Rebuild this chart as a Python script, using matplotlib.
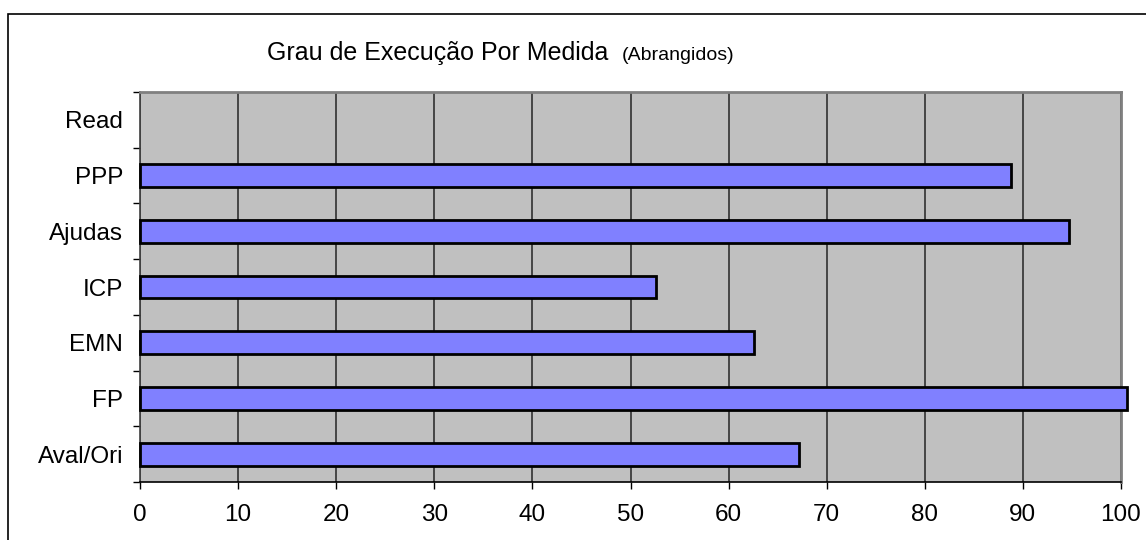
import numpy as np
import matplotlib
matplotlib.use("Agg")
import matplotlib.pyplot as plt
from matplotlib.patches import Rectangle

# Dados (de baixo para cima)
medidas = ["Aval/Ori", "FP", "EMN", "ICP", "Ajudas", "PPP", "Read"]
grau = [67.2, 100.6, 62.6, 52.6, 94.7, 88.8, np.nan]
xticks = [0, 10, 20, 30, 40, 50, 60, 70, 80, 90, 100]

plt.rcParams['font.family'] = ['Liberation Sans', 'DejaVu Sans']

W, H = 1146, 540
fig = plt.figure(figsize=(W / 100, H / 100), dpi=100)

# Moldura exterior (cortada à direita e em baixo)
fig.patches.append(Rectangle((8 / W, -0.2), 1.2, 1 - 14 / H + 0.2,
                             transform=fig.transFigure, fill=False,
                             edgecolor='black', linewidth=1.2))

ax = fig.add_axes([140 / W, 1 - 482 / H, (1121 - 140) / W, (482 - 92) / H])
ax.set_facecolor('#C0C0C0')

pos = np.arange(len(medidas))
ax.barh(pos, grau, height=0.41, color='#8080FF', edgecolor='black',
        linewidth=2, clip_on=False, zorder=3)

ax.set_xlim(0, 100)
ax.set_ylim(-0.5, len(medidas) - 0.5)
ax.set_xticks(xticks)
ax.set_xticklabels([str(v) for v in xticks])
ax.set_yticks(pos)
ax.set_yticklabels(medidas)
ax.set_yticks(np.arange(-0.5, len(medidas)), minor=True)

ax.grid(True, axis='x', color='#303030', linewidth=1.2, zorder=1)
ax.set_axisbelow(True)

ax.tick_params(axis='y', which='major', length=0, pad=12, labelsize=17.5)
ax.tick_params(axis='y', which='minor', length=5, width=1, color='black')
ax.tick_params(axis='x', length=5, width=1, pad=11, labelsize=17.5)

for side in ['top', 'right']:
    ax.spines[side].set_color('#808080')
    ax.spines[side].set_linewidth(2)
ax.spines['left'].set_color('#404040')
ax.spines['bottom'].set_color('black')
ax.spines['left'].set_linewidth(1.2)
ax.spines['bottom'].set_linewidth(1.2)

# Título em duas partes
fig.text(267 / W, 1 - 60 / H, "Grau de Execução Por Medida",
         fontsize=18, va='baseline', ha='left')
fig.text(622 / W, 1 - 60 / H, "(Abrangidos)",
         fontsize=14, va='baseline', ha='left')

plt.savefig('out.png', dpi=100)
